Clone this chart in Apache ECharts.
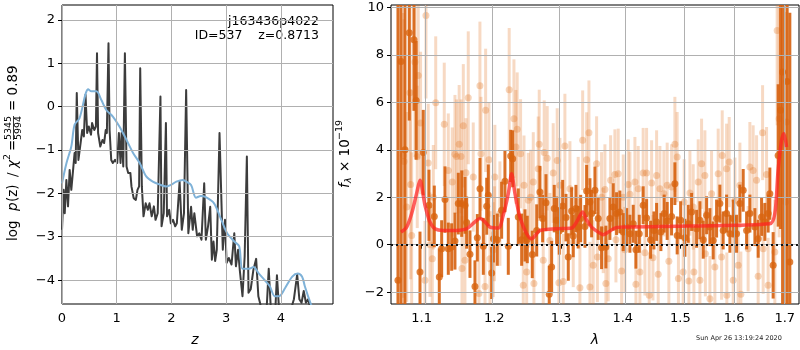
<!DOCTYPE html>
<html>
<head>
<meta charset="utf-8">
<script src="https://cdn.jsdelivr.net/npm/echarts@6/dist/echarts.min.js"></script>
<style>html,body{margin:0;padding:0;background:#fff;}#c{width:800px;height:350px;}</style>
</head>
<body>
<div id="c"></div>
<script>
// ---------- Left panel: log p(z) ----------
const zTicks = [0, 1, 2, 3, 4];
const pzTicks = [-4, -3, -2, -1, 0, 1, 2];
const pzZ = [0.00,0.03,0.05,0.08,0.11,0.14,0.17,0.20,0.23,0.25,0.27,0.30,0.34,0.37,0.40,0.43,0.46,0.49,0.53,0.55,0.59,0.62,0.64,0.66,0.70,0.74,0.77,0.80,0.82,0.85,0.87,0.90,0.93,0.97,1.01,1.04,1.07,1.09,1.12,1.15,1.18,1.21,1.25,1.27,1.31,1.35,1.38,1.41,1.43,1.46,1.49,1.53,1.57,1.60,1.64,1.68,1.71,1.75,1.80,1.82,1.86,1.90,1.92,1.96,1.99,2.03,2.07,2.10,2.15,2.19,2.23,2.27,2.31,2.36,2.39,2.42,2.47,2.51,2.55,2.60,2.63,2.67,2.71,2.74,2.77,2.80,2.83,2.88,2.94,2.98,3.01,3.05,3.10,3.15,3.18,3.22,3.25,3.30,3.34,3.38,3.41,3.45,3.50,3.55,3.59,3.62,3.65,3.74,3.78,3.82,3.90,3.93,3.97,4.18,4.24,4.30,4.34,4.38,4.42,4.46,4.50,4.55,4.70,4.95];
const pzLog = [-2.84,-1.92,-2.46,-1.69,-2.30,-1.46,-1.92,-1.50,-1.07,-1.30,0.31,-1.23,-0.84,-0.54,-0.69,0.27,-0.61,-0.46,-0.65,-0.38,-0.54,-0.46,1.23,-0.61,-0.92,-0.77,-0.84,-0.54,-0.61,1.46,-0.54,-1.23,-1.30,-1.23,-1.30,-0.61,-1.30,-0.61,-1.38,1.23,-1.38,-1.53,-1.53,-1.84,-2.11,-2.15,-1.92,-1.84,0.88,-1.84,-2.53,-2.23,-2.38,-2.23,-2.53,-2.30,-2.61,-2.46,0.23,-2.76,-2.46,-0.38,-2.53,-2.38,-2.69,-2.61,-2.76,-2.69,-1.73,-2.84,-2.46,0.38,-2.92,-2.31,-2.84,-2.46,-2.99,-2.92,-3.07,-1.77,-3.07,-2.76,-2.31,-3.53,-3.11,-3.56,-3.30,-0.61,-3.30,-2.61,-3.60,-3.49,-3.64,-2.92,-3.68,-3.30,-3.76,-4.37,-3.45,-1.15,-4.29,-4.21,-3.76,-3.51,-4.37,-4.52,-4.70,-4.70,-3.74,-4.70,-4.70,-3.89,-4.70,-4.70,-4.44,-3.87,-4.44,-4.52,-4.25,-4.52,-4.44,-4.70,-4.95,-4.95];
const smoothZ = [0.00,0.08,0.17,0.23,0.32,0.48,0.54,0.63,0.72,0.81,0.93,1.05,1.18,1.30,1.42,1.54,1.66,1.79,1.91,2.00,2.09,2.21,2.27,2.36,2.45,2.54,2.63,2.78,2.90,3.02,3.15,3.24,3.30,3.42,3.50,3.60,3.72,3.80,3.89,3.97,4.08,4.21,4.31,4.39,4.44,4.54,4.59];
const smoothLog = [-1.77,-1.31,-0.92,-0.42,-0.27,0.40,0.35,0.35,0.15,-0.08,-0.23,-0.46,-0.77,-1.07,-1.30,-1.61,-1.73,-1.80,-1.84,-1.80,-1.73,-1.69,-1.73,-1.81,-2.10,-2.06,-2.09,-2.23,-2.57,-2.92,-3.11,-3.22,-3.74,-3.74,-3.70,-3.85,-4.02,-4.14,-4.37,-4.37,-4.18,-3.92,-3.85,-3.92,-4.14,-4.52,-4.67];

// ---------- Right panel: spectrum ----------
const lamTicks = [1.1, 1.2, 1.3, 1.4, 1.5, 1.6, 1.7];
const fluxTicks = [-2, 0, 2, 4, 6, 8, 10];
const darkLam = [1.0692,1.0731,1.0782,1.0838,1.0899,1.0928,1.0978,1.1021,1.1097,1.1168,1.1235,1.1267,1.1312,1.1357,1.1403,1.1448,1.1494,1.1541,1.1587,1.1610,1.1656,1.1726,1.1759,1.1797,1.1844,1.1892,1.1915,1.1963,1.1989,1.2044,1.2107,1.2155,1.2204,1.2239,1.2268,1.2351,1.2401,1.2451,1.2485,1.2560,1.2627,1.2676,1.2717,1.2768,1.2818,1.2855,1.2895,1.2932,1.2973,1.3026,1.3078,1.3114,1.3167,1.3192,1.3235,1.3271,1.3310,1.3379,1.3406,1.3459,1.3486,1.3540,1.3593,1.3648,1.3719,1.3785,1.3840,1.3896,1.3951,1.4007,1.4065,1.4120,1.4176,1.4222,1.4279,1.4346,1.4405,1.4474,1.4532,1.4579,1.4654,1.4712,1.4765,1.4843,1.4902,1.4943,1.5005,1.5082,1.5142,1.5204,1.5295,1.5356,1.5417,1.5480,1.5541,1.5602,1.5666,1.5728,1.5790,1.5855,1.5918,1.5981,1.6046,1.6110,1.6174,1.6240,1.6304,1.6402,1.6467,1.6534,1.6600,1.6665,1.6699,1.6765,1.6866,1.6915,1.6956,1.7049,1.7104];
const darkFlux = [-1.5,7.72,4.0,8.93,8.64,6.08,-1.15,3.88,1.66,1.19,-1.36,-0.17,1.90,-0.17,-0.10,0.15,1.73,1.73,1.66,0.93,-0.40,-1.76,0.29,2.36,-0.07,1.62,2.08,-1.19,0.25,0.21,1.45,2.67,-0.07,3.74,3.62,1.17,0.21,0.39,0.22,-0.41,0.60,2.22,1.10,1.77,-2.09,-0.94,1.52,1.03,0.58,1.63,1.14,-0.52,1.42,0.37,1.52,0.74,1.10,0.77,2.26,1.80,1.31,2.29,1.10,-0.13,-0.10,1.10,1.59,1.31,1.38,0.53,0.74,0.46,0.88,-0.21,0.46,1.66,1.12,0.21,0.60,0.96,0.53,1.31,1.00,1.19,2.57,0.39,1.03,0.29,0.88,1.38,0.67,1.03,0.21,1.24,0.74,0.18,1.10,1.73,0.60,1.31,0.46,1.10,0.46,1.73,2.29,0.60,1.31,0.74,0.25,1.17,0.96,1.31,2.15,-0.87,3.76,5.66,7.28,6.88,-0.73];
const darkErr = [12,11,8,3.7,3.0,2.5,1.7,1.8,1.5,1.3,1.2,1.2,1.4,1.1,1.0,1.2,1.3,1.4,1.2,1.1,1.0,1.1,1.0,1.3,1.2,1.2,1.3,1.1,1.0,1.1,1.2,1.3,1.2,1.1,1.2,1.2,1.1,1.1,1.0,1.0,1.1,1.1,1.0,1.2,1.2,1.1,1.0,1.0,1.0,1.1,1.0,1.0,1.0,0.9,1.0,0.9,1.0,0.9,1.1,1.0,1.0,1.0,0.9,0.9,0.9,0.9,1.0,0.9,0.9,0.8,0.8,0.8,0.8,0.8,0.8,0.8,0.8,0.8,0.8,0.8,0.8,0.8,0.8,0.8,0.9,0.8,0.8,0.8,0.8,0.8,0.8,0.8,0.8,0.8,0.8,0.8,0.8,0.8,0.8,0.8,0.8,0.8,0.8,0.8,0.9,0.8,0.8,0.8,0.8,0.8,0.8,0.8,1.1,1.4,3.0,5.0,10,10,10.5];
const lightLam = [1.0761,1.0770,1.0804,1.0847,1.0856,1.0869,1.0912,1.0942,1.0955,1.0986,1.1044,1.1057,1.1087,1.1110,1.1141,1.1155,1.1187,1.1302,1.1357,1.1411,1.1448,1.1471,1.1506,1.1531,1.1545,1.1563,1.1586,1.1600,1.1632,1.1702,1.1782,1.1796,1.1811,1.1868,1.1877,1.1924,1.1939,1.1986,1.2003,1.2009,1.2082,1.2217,1.2287,1.2316,1.2335,1.2385,1.2425,1.2436,1.2476,1.2500,1.2535,1.2575,1.2585,1.2650,1.2665,1.2726,1.2741,1.2787,1.2828,1.2879,1.2941,1.2967,1.2983,1.3035,1.3061,1.3140,1.3192,1.3271,1.3298,1.3342,1.3406,1.3443,1.3459,1.3512,1.3567,1.3580,1.3648,1.3675,1.3703,1.3719,1.3757,1.3797,1.3868,1.3885,1.3923,1.3980,1.4007,1.4035,1.4091,1.4120,1.4205,1.4222,1.4261,1.4290,1.4346,1.4376,1.4405,1.4450,1.4492,1.4515,1.4579,1.4607,1.4637,1.4707,1.4765,1.4795,1.4843,1.4902,1.4943,1.4965,1.5051,1.5069,1.5154,1.5173,1.5233,1.5246,1.5325,1.5356,1.5387,1.5448,1.5457,1.5541,1.5572,1.5634,1.5696,1.5760,1.5772,1.5855,1.5860,1.5905,1.5981,1.6014,1.6077,1.6110,1.6129,1.6270,1.6304,1.6368,1.6435,1.6467,1.6554,1.6566,1.6633,1.6665,1.6799,1.6846,1.6886,1.7016,1.7037];
const lightFlux = [3.76,3.50,1.59,6.40,2.54,0.39,7.70,3.70,7.13,5.13,-1.50,9.66,3.44,0.00,-0.59,2.00,5.98,5.07,3.13,2.64,3.81,3.72,4.23,3.72,-1.00,5.01,-0.66,3.03,6.19,2.85,-2.06,6.70,3.83,-1.76,5.66,3.58,-0.59,-0.21,0.46,2.85,1.31,6.53,5.31,4.12,4.86,3.83,-1.71,2.50,-1.15,1.87,2.00,2.64,-1.64,3.20,4.23,-0.66,3.88,3.64,0.18,3.02,3.55,-1.60,2.50,-1.55,4.16,2.36,0.11,1.80,-1.81,4.40,3.58,4.72,-1.78,-0.87,3.41,-0.52,2.00,0.60,2.33,-1.64,-0.59,2.71,2.96,0.21,2.99,-1.11,2.00,-0.21,2.54,2.12,2.64,-1.67,2.36,-1.15,3.02,-0.34,3.02,-2.13,2.60,-0.55,2.92,-1.25,2.36,2.15,2.50,-0.70,2.43,4.23,3.69,-1.43,-1.15,1.80,-1.53,2.18,1.59,-1.15,2.64,-1.50,3.41,2.92,-0.38,-2.28,2.15,-0.94,2.99,-0.52,3.76,3.20,-2.13,3.48,-1.50,1.87,-0.87,2.50,-2.09,-0.17,3.27,3.13,2.71,-1.33,4.72,-0.17,2.96,-1.71,-0.31,9.03,5.31,1.80,5.17];
const lightErr = [6,6,4,4,4,3.5,4,3,3.5,3,2.5,3.5,2.5,2.2,2.2,2.2,2.8,2.6,2.4,2.3,2.5,2.4,2.5,2.4,2.2,2.6,2.2,2.3,2.8,2.3,2.2,2.7,2.4,2.2,2.6,2.4,2.0,2.0,2.0,2.2,2.2,2.6,2.5,2.4,2.4,2.3,2.0,2.1,2.0,2.0,2.0,2.1,2.0,2.2,2.3,2.0,2.2,2.2,2.0,2.1,2.2,2.0,2.0,2.0,2.2,2.0,1.9,1.9,1.9,2.1,2.0,2.2,1.9,1.9,2.0,1.9,1.9,1.8,1.9,1.9,1.8,1.9,1.9,1.8,1.9,1.8,1.8,1.8,1.9,1.8,1.9,1.8,1.8,1.8,1.9,1.8,1.9,1.8,1.8,1.8,1.9,1.8,1.8,1.8,1.8,1.8,1.8,2.0,1.9,1.8,1.8,1.8,1.8,1.8,1.8,1.8,1.8,1.8,1.9,1.9,1.8,1.8,1.8,1.8,1.9,1.8,1.9,1.9,1.8,1.9,1.8,1.8,1.8,1.8,1.8,1.8,1.9,1.9,1.9,1.8,2.0,1.9,2.0,2.0,2.2,4,5,8,8];
const modelLam = [1.0731,1.0804,1.0869,1.0933,1.0978,1.1044,1.1110,1.1177,1.1289,1.1471,1.1610,1.1726,1.1796,1.1868,1.1939,1.2058,1.2130,1.2204,1.2253,1.2302,1.2375,1.2476,1.2551,1.2627,1.2676,1.2932,1.3167,1.3246,1.3342,1.3406,1.3486,1.3593,1.3675,1.3757,1.3868,1.4007,1.5173,1.6699,1.6799,1.6865,1.6935,1.6982,1.7037];
const modelFlux = [0.53,0.74,1.31,2.15,2.71,1.66,0.96,0.67,0.60,0.60,0.67,0.96,1.10,0.96,0.74,0.70,1.24,2.15,2.99,2.15,1.17,0.46,0.25,0.46,0.60,0.67,0.70,0.96,1.38,1.03,0.74,0.53,0.42,0.53,0.70,0.74,0.79,0.88,1.31,3.13,4.40,4.68,4.12];

const FONT = 'DejaVu Sans';
const minus = v => (v < 0 ? '\u2212' + Math.abs(v) : String(v));
const ln = Math.log;

const pairs = (a, b) => a.map((v, i) => [v, b[i]]);
const lnTriples = (l, f, e) => l.map((v, i) => [ln(v), f[i], e[i]]);

function errRender(color, width) {
  return function (params, api) {
    const x = api.value(0), y = api.value(1), e = api.value(2);
    const p1 = api.coord([x, y + e]);
    const p2 = api.coord([x, y - e]);
    const cs = params.coordSys;
    const top = cs.y, bot = cs.y + cs.height;
    const y1 = Math.max(top, Math.min(bot, p1[1]));
    const y2 = Math.max(top, Math.min(bot, p2[1]));
    return {
      type: 'line',
      shape: { x1: p1[0], y1: y1, x2: p2[0], y2: y2 },
      style: { stroke: color, lineWidth: width, lineCap: 'butt' }
    };
  };
}

function gridLines(xi, xs, ys) {
  return {
    type: 'line', xAxisIndex: xi, yAxisIndex: xi, data: [], z: 0, silent: true,
    markLine: {
      silent: true, symbol: ['none', 'none'], label: { show: false },
      lineStyle: { color: '#b0b0b0', width: 1, type: 'solid' },
      emphasis: { disabled: true },
      data: xs.map(v => ({ xAxis: v })).concat(ys.map(v => ({ yAxis: v })))
    }
  };
}

const axisLabelBase = { color: '#000', fontSize: 13, fontFamily: FONT };
const tickBase = { show: true, inside: false, length: 4, lineStyle: { color: '#000', width: 1 } };

const chart = echarts.init(document.getElementById('c'), null, { renderer: 'canvas' });
chart.setOption({
  animation: false,
  backgroundColor: '#fff',
  grid: [
    { left: 62, top: 5, width: 271, height: 299, show: true, borderColor: '#000', borderWidth: 1, backgroundColor: 'transparent' },
    { left: 391, top: 5, width: 408, height: 299, show: true, borderColor: '#000', borderWidth: 1, backgroundColor: 'transparent' }
  ],
  xAxis: [
    { type: 'value', gridIndex: 0, min: 0, max: 4.955,
      axisLine: { show: false }, splitLine: { show: false },
      axisTick: Object.assign({ customValues: zTicks }, tickBase),
      axisLabel: Object.assign({ customValues: zTicks, margin: 8, formatter: v => String(v) }, axisLabelBase) },
    { type: 'value', gridIndex: 1, min: ln(1.0603), max: ln(1.7293),
      axisLine: { show: false }, splitLine: { show: false },
      axisTick: Object.assign({ customValues: lamTicks.map(ln) }, tickBase),
      axisLabel: Object.assign({ customValues: lamTicks.map(ln), margin: 8, formatter: v => Math.exp(v).toFixed(1) }, axisLabelBase) }
  ],
  yAxis: [
    { type: 'value', gridIndex: 0, min: -4.55, max: 2.34,
      axisLine: { show: false }, splitLine: { show: false },
      axisTick: Object.assign({ customValues: pzTicks }, tickBase),
      axisLabel: Object.assign({ customValues: pzTicks, margin: 7, formatter: minus }, axisLabelBase) },
    { type: 'value', gridIndex: 1, min: -2.5, max: 10.1,
      axisLine: { show: false }, splitLine: { show: false },
      axisTick: Object.assign({ customValues: fluxTicks }, tickBase),
      axisLabel: Object.assign({ customValues: fluxTicks, margin: 7, formatter: minus }, axisLabelBase) }
  ],
  series: [
    gridLines(0, zTicks, pzTicks),
    gridLines(1, lamTicks.map(ln), fluxTicks),
    { type: 'line', xAxisIndex: 0, yAxisIndex: 0, data: pairs(pzZ, pzLog), showSymbol: false, clip: true, z: 3,
      lineStyle: { color: '#3c3c3c', width: 2, join: 'round' } },
    { type: 'line', xAxisIndex: 0, yAxisIndex: 0, data: pairs(smoothZ, smoothLog), showSymbol: false, clip: true, smooth: 0.3, z: 4,
      lineStyle: { color: '#7fb2d8', width: 2 } },
    { type: 'custom', xAxisIndex: 1, yAxisIndex: 1, data: lnTriples(lightLam, lightFlux, lightErr), z: 2,
      renderItem: errRender('rgba(228,120,40,0.28)', 3), encode: { x: 0, y: 1 } },
    { type: 'scatter', xAxisIndex: 1, yAxisIndex: 1, data: lnTriples(lightLam, lightFlux, lightErr), symbolSize: 7, z: 2,
      itemStyle: { color: 'rgba(228,120,40,0.4)' } },
    { type: 'custom', xAxisIndex: 1, yAxisIndex: 1, data: lnTriples(darkLam, darkFlux, darkErr), z: 3,
      renderItem: errRender('rgba(214,96,14,0.9)', 3), encode: { x: 0, y: 1 } },
    { type: 'scatter', xAxisIndex: 1, yAxisIndex: 1, data: lnTriples(darkLam, darkFlux, darkErr), symbolSize: 7, z: 3,
      itemStyle: { color: '#d8640f' } },
    { type: 'line', xAxisIndex: 1, yAxisIndex: 1, data: pairs(modelLam.map(ln), modelFlux), showSymbol: false, smooth: 0.3, clip: true, z: 5,
      lineStyle: { color: 'rgba(255,35,35,0.72)', width: 3.5 },
      markLine: { silent: true, symbol: ['none', 'none'], label: { show: false },
        lineStyle: { color: '#111', width: 2, type: [2, 3] }, data: [{ yAxis: 0 }] } }
  ],
  graphic: [
    { type: 'text', right: 481, top: 15, style: { text: 'j163436p4022', font: '12.5px "DejaVu Sans"', fill: '#000', textAlign: 'right' } },
    { type: 'text', right: 481, top: 29, style: { text: 'ID=537    z=0.8713', font: '12.5px "DejaVu Sans"', fill: '#000', textAlign: 'right' } },
    { type: 'text', left: 696, top: 335, style: { text: 'Sun Apr 26 13:19:24 2020', font: '6.5px "DejaVu Sans"', fill: '#222' } },
    { type: 'text', x: 195, y: 340, style: { text: 'z', font: 'italic 14px "DejaVu Sans"', fill: '#000', textAlign: 'center', textVerticalAlign: 'middle' } },
    { type: 'text', x: 595, y: 340, style: { text: 'λ', font: 'italic 14px "DejaVu Sans"', fill: '#000', textAlign: 'center', textVerticalAlign: 'middle' } },
    { type: 'group', x: 13, y: 241, rotation: Math.PI / 2, children: [
      { type: 'text', x: 0, y: 0, style: { text: 'log', font: '13.5px "DejaVu Sans"', fill: '#000', textVerticalAlign: 'middle' } },
      { type: 'text', x: 30, y: 0, style: { text: 'p', font: 'italic 13.5px "DejaVu Sans"', fill: '#000', textVerticalAlign: 'middle' } },
      { type: 'text', x: 39, y: 0, style: { text: '(z)', font: '13.5px "DejaVu Sans"', fill: '#000', textVerticalAlign: 'middle' } },
      { type: 'text', x: 64, y: 0, style: { text: '/', font: '13.5px "DejaVu Sans"', fill: '#000', textVerticalAlign: 'middle' } },
      { type: 'text', x: 73, y: 0, style: { text: 'χ', font: 'italic 13.5px "DejaVu Sans"', fill: '#000', textVerticalAlign: 'middle' } },
      { type: 'text', x: 81, y: -5, style: { text: '2', font: '9.5px "DejaVu Sans"', fill: '#000', textVerticalAlign: 'middle' } },
      { type: 'text', x: 90, y: 0, style: { text: '=', font: '13.5px "DejaVu Sans"', fill: '#000', textVerticalAlign: 'middle' } },
      { type: 'text', x: 113, y: -4.5, style: { text: '5345', font: '9.5px "DejaVu Sans"', fill: '#000', textAlign: 'center', textVerticalAlign: 'middle' } },
      { type: 'line', shape: { x1: 101, y1: 0.5, x2: 125, y2: 0.5 }, style: { stroke: '#000', lineWidth: 0.8 } },
      { type: 'text', x: 113, y: 5.5, style: { text: '5994', font: '9.5px "DejaVu Sans"', fill: '#000', textAlign: 'center', textVerticalAlign: 'middle' } },
      { type: 'text', x: 130, y: 0, style: { text: '= 0.89', font: '13.5px "DejaVu Sans"', fill: '#000', textVerticalAlign: 'middle' } }
    ] },
    { type: 'group', x: 345, y: 188, rotation: Math.PI / 2, children: [
      { type: 'text', x: 0, y: 0, style: { text: 'f', font: 'italic 13.5px "DejaVu Sans"', fill: '#000', textVerticalAlign: 'middle' } },
      { type: 'text', x: 5, y: 4, style: { text: 'λ', font: 'italic 9.5px "DejaVu Sans"', fill: '#000', textVerticalAlign: 'middle' } },
      { type: 'text', x: 16, y: 0, style: { text: '× 10', font: '13.5px "DejaVu Sans"', fill: '#000', textVerticalAlign: 'middle' } },
      { type: 'text', x: 48, y: -5, style: { text: '\u221219', font: '9.5px "DejaVu Sans"', fill: '#000', textVerticalAlign: 'middle' } }
    ] }
  ]
});
</script>
</body>
</html>
